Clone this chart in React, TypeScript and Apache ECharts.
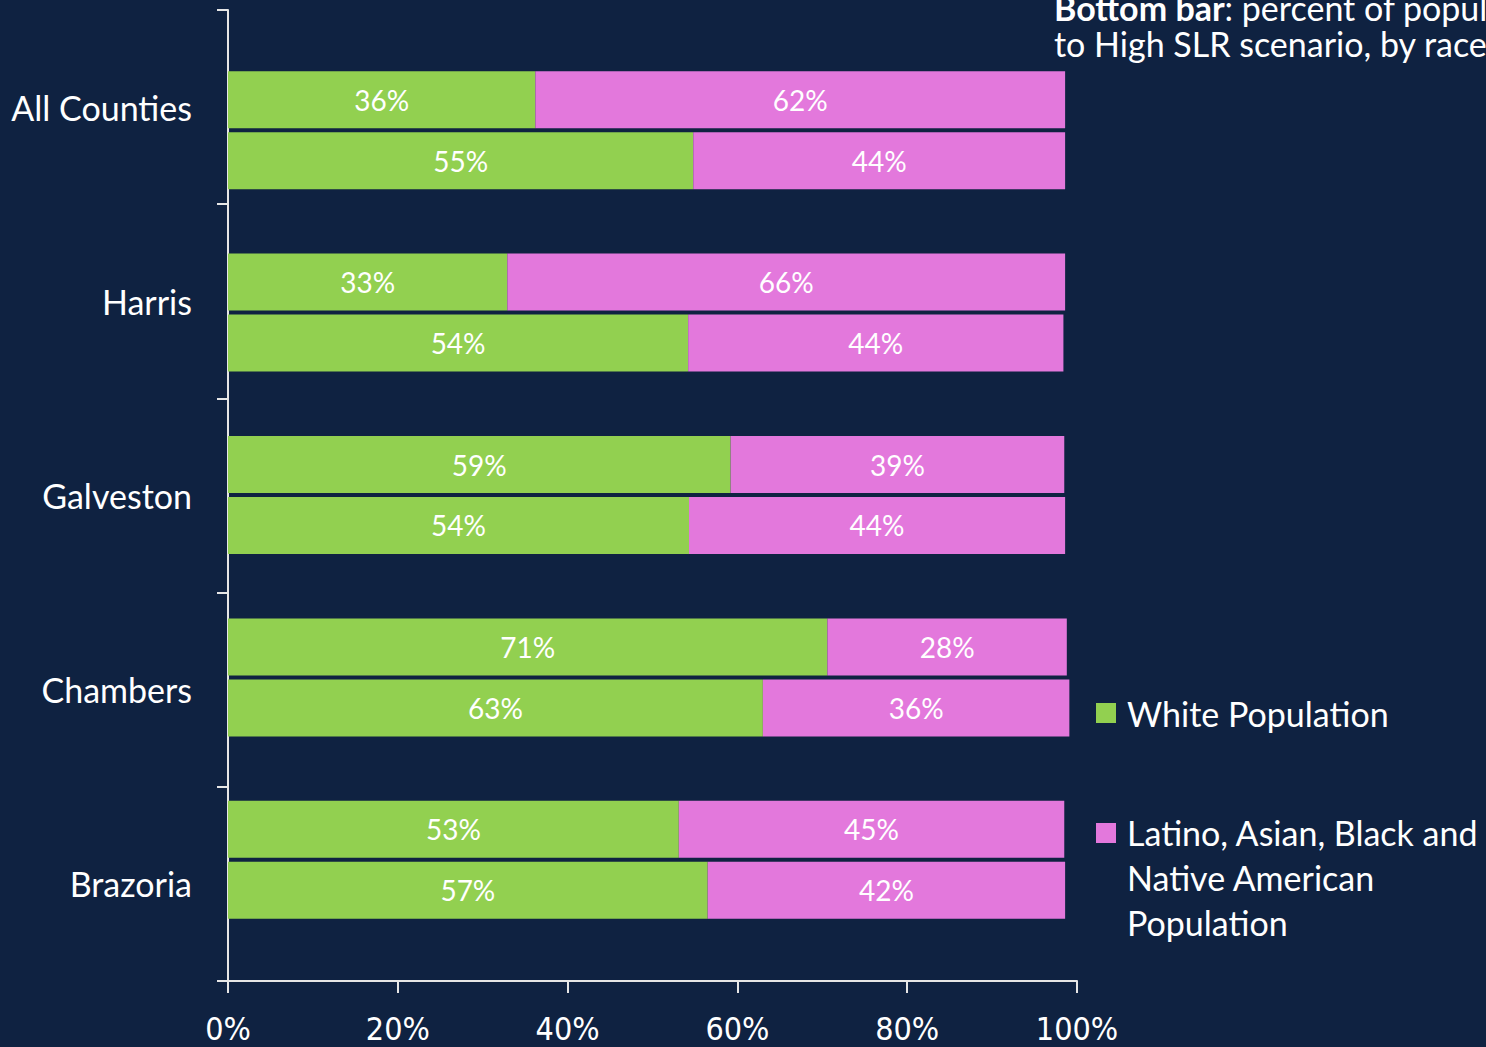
import React, { useEffect, useRef } from "react";
import * as echarts from "echarts";

const counties = ["All Counties", "Harris", "Galveston", "Chambers", "Brazoria"];
const seriesNames = ["White Population", "Latino, Asian, Black and\nNative American\nPopulation"];
// Top bar per county
const whiteTop = [36.2, 32.9, 59.2, 70.6, 53.1];
const pocTop = [62.4, 65.7, 39.3, 28.2, 45.4];
// Bottom bar per county
const whiteBottom = [54.8, 54.2, 54.3, 63.0, 56.5];
const pocBottom = [43.8, 44.2, 44.3, 36.1, 42.1];
const xTicks = [0, 20, 40, 60, 80, 100];

const GREEN = "#92d050";
const PINK = "#e378dc";
const BG = "#0f2241";
const FONT = "Lato, 'Noto Sans', sans-serif";
const AXIS = "#e6e6e6";

export default function App() {
  const ref = useRef<HTMLDivElement>(null);
  useEffect(() => {
    if (!ref.current) return;
    const chart = echarts.init(ref.current, undefined, { renderer: "svg" });
    const label = {
      show: true,
      position: "inside",
      color: "#ffffff",
      fontFamily: FONT,
      fontSize: 28,
      formatter: (p: any) => Math.round(p.value) + "%",
    };
    const mk = (name: string, data: number[], stack: string, color: string) => ({
      type: "bar",
      name,
      stack,
      data,
      xAxisIndex: 1,
      yAxisIndex: 1,
      barWidth: 57,
      barGap: "7%",
      itemStyle: { color },
      label,
    });
    chart.setOption({
      animation: false,
      backgroundColor: BG,
      grid: [
        { left: 228, right: 409, top: 10, bottom: 66, containLabel: false },
        { left: 228, right: 409, top: 39, bottom: 96, containLabel: false },
      ],
      xAxis: [
        {
          type: "value",
          gridIndex: 0,
          min: 0,
          max: 100,
          interval: 20,
          axisLine: { show: true, lineStyle: { color: AXIS, width: 2 } },
          axisTick: { show: true, length: 12, lineStyle: { color: AXIS, width: 2 } },
          splitLine: { show: false },
          axisLabel: {
            color: "#ffffff",
            fontFamily: "'Liberation Sans Narrow', 'DejaVu Sans Condensed', Lato, sans-serif",
            fontSize: 32,
            margin: 32,
            formatter: (v: number) => (xTicks.includes(v) ? v + "%" : ""),
          },
        },
        {
          type: "value",
          gridIndex: 1,
          min: 0,
          max: 100,
          show: false,
          splitLine: { show: false },
        },
      ],
      yAxis: [
        {
          type: "category",
          gridIndex: 0,
          data: counties,
          inverse: true,
          axisLine: { show: true, lineStyle: { color: AXIS, width: 2 } },
          axisTick: { show: true, length: 11, lineStyle: { color: AXIS, width: 2 } },
          axisLabel: { color: "#ffffff", fontFamily: FONT, fontSize: 34, margin: 36, padding: [0, 0, 5, 0] },
        },
        {
          type: "category",
          gridIndex: 1,
          data: counties,
          inverse: true,
          show: false,
        },
      ],
      graphic: [
        {
          type: "text",
          left: 1054,
          top: -11,
          style: {
            text: "{b|Bottom bar}: percent of population exposed\nto High SLR scenario, by race",
            fill: "#ffffff",
            font: `34px ${FONT}`,
            lineHeight: 36,
            rich: { b: { fontWeight: "bold", fontSize: 34, fontFamily: FONT, fill: "#ffffff", lineHeight: 36 } },
          },
        },
        { type: "rect", shape: { x: 1096, y: 703, width: 20, height: 20 }, style: { fill: GREEN } },
        {
          type: "text",
          x: 1127,
          y: 713,
          style: { text: seriesNames[0], fill: "#ffffff", font: `34px ${FONT}`, verticalAlign: "middle" },
        },
        { type: "rect", shape: { x: 1096, y: 823, width: 20, height: 20 }, style: { fill: PINK } },
        {
          type: "text",
          x: 1127,
          y: 810,
          style: {
            text: seriesNames[1],
            fill: "#ffffff",
            font: `34px ${FONT}`,
            lineHeight: 45,
            verticalAlign: "top",
          },
        },
      ],
      series: [
        mk(seriesNames[0], whiteTop, "top", GREEN),
        mk(seriesNames[1], pocTop, "top", PINK),
        mk(seriesNames[0], whiteBottom, "bottom", GREEN),
        mk(seriesNames[1], pocBottom, "bottom", PINK),
      ],
    });
    return () => chart.dispose();
  }, []);
  return <div ref={ref} style={{ width: 1486, height: 1047, position: "absolute", left: 0, top: 0 }} />;
}
